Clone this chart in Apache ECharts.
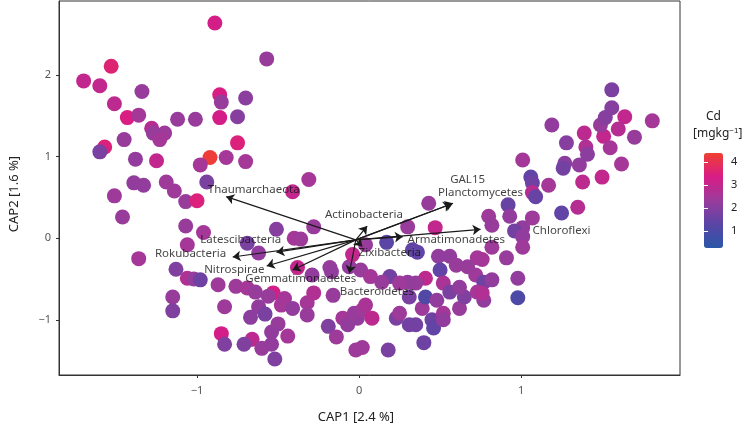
<!DOCTYPE html>
<html>
<head>
<meta charset="utf-8">
<script src="https://cdn.jsdelivr.net/npm/echarts@6/dist/echarts.min.js"></script>
<style>
  html, body { margin: 0; padding: 0; background: #fff; }
  #chart { width: 749px; height: 426px; }
</style>
</head>
<body>
<div id="chart"></div>
<script>
// sample scores on the two constrained axes, coloured by Cd
var cap1 = [
  -0.89, -0.57, -1.53, -1.70, -1.60, -1.34, -1.51, -0.86, -0.85, -0.70,
  -1.43, -1.36, -1.12, -1.01, -0.86, -0.75, -1.28, -1.20, -1.27, -1.23,
  -1.45, -1.57, -1.60, -0.75, -1.38, -1.25, -0.92, -0.82, -0.98, -0.70,
  -0.94, -1.39, -1.33, -1.19, -1.51, -1.14, -1.07, -1.00, -0.41, -1.46,
  -0.31, -1.07, -0.96, -1.06, -0.51, -0.40, -0.36, -0.69, -0.62, -1.36,
  -1.13, -1.06, -1.02, -0.98, -0.87, -0.76, -0.69, -0.64, -0.53, -0.56,
  -0.46, -0.48, -0.41, -1.15, -1.15, -0.83, -0.62, -0.67, -0.58, -0.50,
  -0.54, -0.44, -0.85, -0.83, -0.66, -0.71, -0.60, -0.54, -0.52, -0.32,
  -0.28, -0.16, -0.32, -0.19, -0.14, -0.10, -0.07, -0.01, -0.03, 0.02,
  -0.06, -0.04, 0.01, -0.02, 0.02, -0.38, -0.28, -0.18, -0.29, -0.17,
  0.43, 0.47, 0.17, 0.04, 0.30, 0.33, 0.36, 0.49, 0.56, 0.60,
  0.73, 0.72, 0.77, 0.91, 0.98, 0.98, 0.50, 0.52, 0.41, 0.35,
  0.30, 0.19, 0.25, 0.07, 0.14, 0.04, 0.08, 0.23, 0.25, 0.31,
  0.35, 0.39, 0.41, 0.48, 0.45, 0.46, 0.52, 0.52, 0.56, 0.62,
  0.65, 0.73, 0.77, 0.40, 0.18, 0.80, 0.82, 0.92, 0.93, 1.07,
  1.01, 0.96, 1.01, 1.01, 0.82, 0.76, 0.76, 1.06, 1.07, 1.07,
  1.09, 1.17, 1.25, 1.35, 1.38, 1.50, 1.01, 1.27, 1.26, 1.36,
  1.62, 1.19, 1.28, 1.39, 1.40, 1.41, 1.51, 1.55, 1.49, 1.52,
  1.56, 1.56, 1.64, 1.60, 1.70, 1.81, 0.67, 0.62, 0.82, 0.31
];
var cap2 = [
  2.64, 2.20, 2.11, 1.93, 1.87, 1.80, 1.65, 1.76, 1.67, 1.72,
  1.48, 1.51, 1.46, 1.46, 1.48, 1.49, 1.35, 1.29, 1.29, 1.21,
  1.21, 1.12, 1.06, 1.17, 0.97, 0.95, 0.99, 0.99, 0.90, 0.94,
  0.69, 0.68, 0.65, 0.69, 0.52, 0.58, 0.45, 0.46, 0.57, 0.26,
  0.72, 0.15, 0.07, -0.08, 0.11, 0.00, -0.01, -0.06, -0.18, -0.25,
  -0.38, -0.49, -0.50, -0.51, -0.57, -0.59, -0.61, -0.66, -0.67, -0.71,
  -0.74, -0.82, -0.86, -0.72, -0.89, -0.84, -0.84, -0.97, -0.93, -1.05,
  -1.15, -1.20, -1.17, -1.30, -1.24, -1.30, -1.35, -1.30, -1.48, -0.79,
  -0.67, -0.70, -0.94, -1.08, -1.21, -0.98, -1.06, -0.98, -0.92, -0.88,
  -0.35, -0.20, -0.39, -1.37, -1.34, -0.36, 0.14, -0.36, -0.45, -0.41,
  0.43, 0.13, -0.05, -0.08, 0.14, -0.14, -0.17, -0.22, -0.22, -0.33,
  -0.24, -0.45, -0.54, -0.24, -0.49, -0.73, -0.39, -0.55, -0.49, -0.55,
  -0.54, -0.47, -0.55, -0.47, -0.54, -0.82, -0.98, -0.98, -0.92, -1.06,
  -1.06, -0.86, -0.72, -0.76, -1.00, -1.10, -0.92, -1.00, -0.66, -0.86,
  -0.72, -0.66, -0.76, -1.28, -1.37, 0.27, 0.16, 0.41, 0.27, 0.25,
  0.13, 0.09, 0.02, -0.11, -0.11, -0.26, -0.67, 0.75, 0.68, 0.56,
  0.51, 0.65, 0.31, 0.38, 0.69, 0.75, 0.96, 0.92, 0.86, 0.90,
  0.91, 1.39, 1.17, 1.29, 1.12, 1.03, 1.25, 1.11, 1.39, 1.48,
  1.60, 1.82, 1.49, 1.34, 1.24, 1.44, -0.35, -0.60, -0.51, -0.72
];
var cd = [
  3.3, 2.3, 3.6, 3.0, 3.0, 2.3, 2.9, 3.4, 2.3, 2.1,
  3.4, 2.5, 2.3, 2.3, 3.3, 2.0, 2.8, 2.4, 2.3, 2.5,
  2.3, 3.5, 1.8, 3.5, 2.2, 3.0, 4.3, 2.5, 2.5, 2.5,
  1.8, 2.2, 2.2, 2.4, 2.4, 2.4, 2.3, 3.5, 3.0, 2.3,
  2.5, 2.3, 2.5, 2.5, 2.0, 2.5, 2.4, 1.8, 2.2, 2.5,
  1.9, 2.7, 2.3, 1.6, 2.4, 2.4, 2.5, 2.3, 3.3, 2.3,
  2.5, 2.5, 2.2, 2.3, 1.9, 2.4, 2.2, 2.1, 1.8, 2.3,
  2.2, 2.5, 3.3, 1.9, 2.9, 1.9, 2.3, 2.2, 1.9, 2.5,
  2.7, 2.3, 2.3, 1.9, 2.4, 2.5, 2.2, 2.2, 2.3, 2.4,
  2.2, 3.0, 2.3, 2.4, 2.4, 3.0, 2.3, 2.3, 2.2, 2.2,
  2.3, 3.0, 1.3, 2.3, 2.3, 1.4, 1.4, 2.2, 2.2, 2.3,
  2.5, 2.4, 1.6, 2.3, 2.2, 1.0, 1.4, 2.6, 2.9, 2.3,
  2.2, 1.7, 2.4, 2.5, 2.3, 2.6, 2.9, 1.8, 2.4, 1.7,
  1.7, 2.4, 1.1, 2.2, 1.6, 1.4, 2.5, 2.2, 1.8, 2.3,
  1.9, 2.5, 2.2, 1.6, 1.8, 2.4, 2.3, 1.5, 2.2, 2.4,
  2.2, 1.7, 2.2, 2.4, 2.4, 2.5, 2.7, 1.4, 1.6, 2.8,
  1.5, 2.5, 1.4, 2.8, 2.9, 3.0, 2.5, 2.1, 1.7, 2.2,
  2.5, 2.2, 2.0, 2.9, 2.7, 2.1, 3.0, 2.5, 2.3, 2.0,
  2.0, 1.8, 3.0, 2.8, 2.3, 2.5, 2.3, 2.2, 2.2, 1.8
];

// phylum vectors (arrow tips) and where their names sit
var phyla = ['Thaumarchaeota', 'GAL15', 'Planctomycetes', 'Actinobacteria', 'Chloroflexi',
  'Armatimonadetes', 'Latescibacteria', 'Rokubacteria', 'Nitrospirae', 'Gemmatimonadetes',
  'Bacteroidetes', 'Zixibacteria'];
var vecX = [-0.82, 0.58, 0.57, 0.05, 0.75, 0.27, -0.51, -0.78, -0.57, -0.41, -0.06, 0.02];
var vecY = [0.51, 0.43, 0.42, 0.15, 0.11, 0.02, -0.17, -0.23, -0.34, -0.39, -0.43, -0.10];
var nameX = [-0.65, 0.67, 0.75, 0.03, 1.25, 0.60, -0.73, -1.04, -0.77, -0.36, 0.11, 0.19];
var nameY = [0.59, 0.72, 0.56, 0.29, 0.09, -0.02, -0.02, -0.19, -0.39, -0.50, -0.66, -0.18];
var origin = [-0.02, -0.02];

var cdTicks = [1, 2, 3, 4];
var axisTicks = [-1, 0, 1];
var axisTicksY = [-1, 0, 1, 2];

var points = [];
for (var i = 0; i < cap1.length; i++) {
  points.push([cap1[i], cap2[i], cd[i]]);
}
var arrows = [];
var names = [];
for (var j = 0; j < phyla.length; j++) {
  arrows.push({ coords: [origin, [vecX[j], vecY[j]]] });
  names.push({ name: phyla[j], value: [nameX[j], nameY[j]] });
}

function minus(v) {
  return String(v).replace('-', '\u2212');
}

var chart = echarts.init(document.getElementById('chart'), null, { renderer: 'canvas' });
var font = 'Noto Sans';

chart.setOption({
  animation: false,
  backgroundColor: '#fff',
  textStyle: { fontFamily: font },
  grid: [
    { left: 59, right: 69, top: 1, bottom: 51, show: true, borderColor: '#333', borderWidth: 1 },
    { left: 704, top: 153, width: 19, height: 95, show: false }
  ],
  xAxis: [{
    type: 'value', min: -1.852, max: 1.981,
    splitLine: { show: false },
    axisLine: { show: true, onZero: false, lineStyle: { color: '#333' } },
    axisTick: { show: true, length: 3, lineStyle: { color: '#333' }, customValues: axisTicks },
    axisLabel: { color: '#555', fontSize: 11, margin: 10, customValues: axisTicks, formatter: minus }
  }, {
    gridIndex: 1, type: 'value', show: false
  }],
  yAxis: [{
    type: 'value', min: -1.677, max: 2.91,
    splitLine: { show: false },
    axisLine: { show: true, onZero: false, lineStyle: { color: '#333' } },
    axisTick: { show: true, length: 3, lineStyle: { color: '#333' }, customValues: axisTicksY },
    axisLabel: { color: '#555', fontSize: 11, margin: 8, customValues: axisTicksY, formatter: minus }
  }, {
    gridIndex: 1, type: 'value', min: 0.25, max: 4.4, position: 'right', z: 10,
    splitLine: { show: false },
    axisLine: { show: false },
    axisTick: { show: true, inside: true, length: 4, lineStyle: { color: '#fff', width: 1 }, customValues: cdTicks },
    axisLabel: { color: '#222', fontSize: 11, margin: 8, customValues: cdTicks }
  }, {
    gridIndex: 1, type: 'value', min: 0.25, max: 4.4, position: 'left', z: 10,
    splitLine: { show: false },
    axisLine: { show: false },
    axisTick: { show: true, inside: true, length: 4, lineStyle: { color: '#fff', width: 1 }, customValues: cdTicks },
    axisLabel: { show: false }
  }],
  visualMap: {
    type: 'continuous', seriesIndex: 0, dimension: 2,
    min: 0.25, max: 4.4,
    orient: 'vertical', left: 704, top: 153, padding: 0,
    itemWidth: 19, itemHeight: 95,
    calculable: false, showLabel: false, text: ['', ''],
    inRange: { color: ['#2a57a8', '#5a45a6', '#9a3c9c', '#d81c86', '#f04030'] }
  },
  graphic: [
    { type: 'text', left: 706, top: 111, style: { text: 'Cd', fontSize: 12, fontFamily: font, fill: '#222' } },
    { type: 'text', left: 693, top: 127, style: {
      text: '[mgkg{sup|\u22121}]', fontSize: 12, fontFamily: font, fill: '#222',
      rich: { sup: { fontSize: 8, verticalAlign: 'top', padding: [0, 0, 6, 0], fill: '#222' } }
    } },
    { type: 'text', x: 356, y: 417, style: { text: 'CAP1 [2.4 %]', fontSize: 13, fontFamily: font, fill: '#222', align: 'center', verticalAlign: 'middle' } },
    { type: 'text', x: 14, y: 194, rotation: Math.PI / 2, style: { text: 'CAP2 [1.6 %]', fontSize: 13, fontFamily: font, fill: '#222', align: 'center', verticalAlign: 'middle' } }
  ],
  series: [{
    type: 'scatter',
    data: points,
    symbolSize: 15,
    itemStyle: { opacity: 1 },
    z: 2
  }, {
    type: 'lines',
    coordinateSystem: 'cartesian2d',
    data: arrows,
    symbol: ['none', 'arrow'],
    symbolSize: 8,
    lineStyle: { color: '#1a1a1a', width: 1.2, opacity: 1 },
    z: 3
  }, {
    type: 'scatter',
    data: names,
    symbolSize: 0,
    z: 4,
    label: {
      show: true, position: 'inside', formatter: '{b}',
      color: '#111', fontSize: 11.5, fontFamily: font
    }
  }]
});
</script>
</body>
</html>
